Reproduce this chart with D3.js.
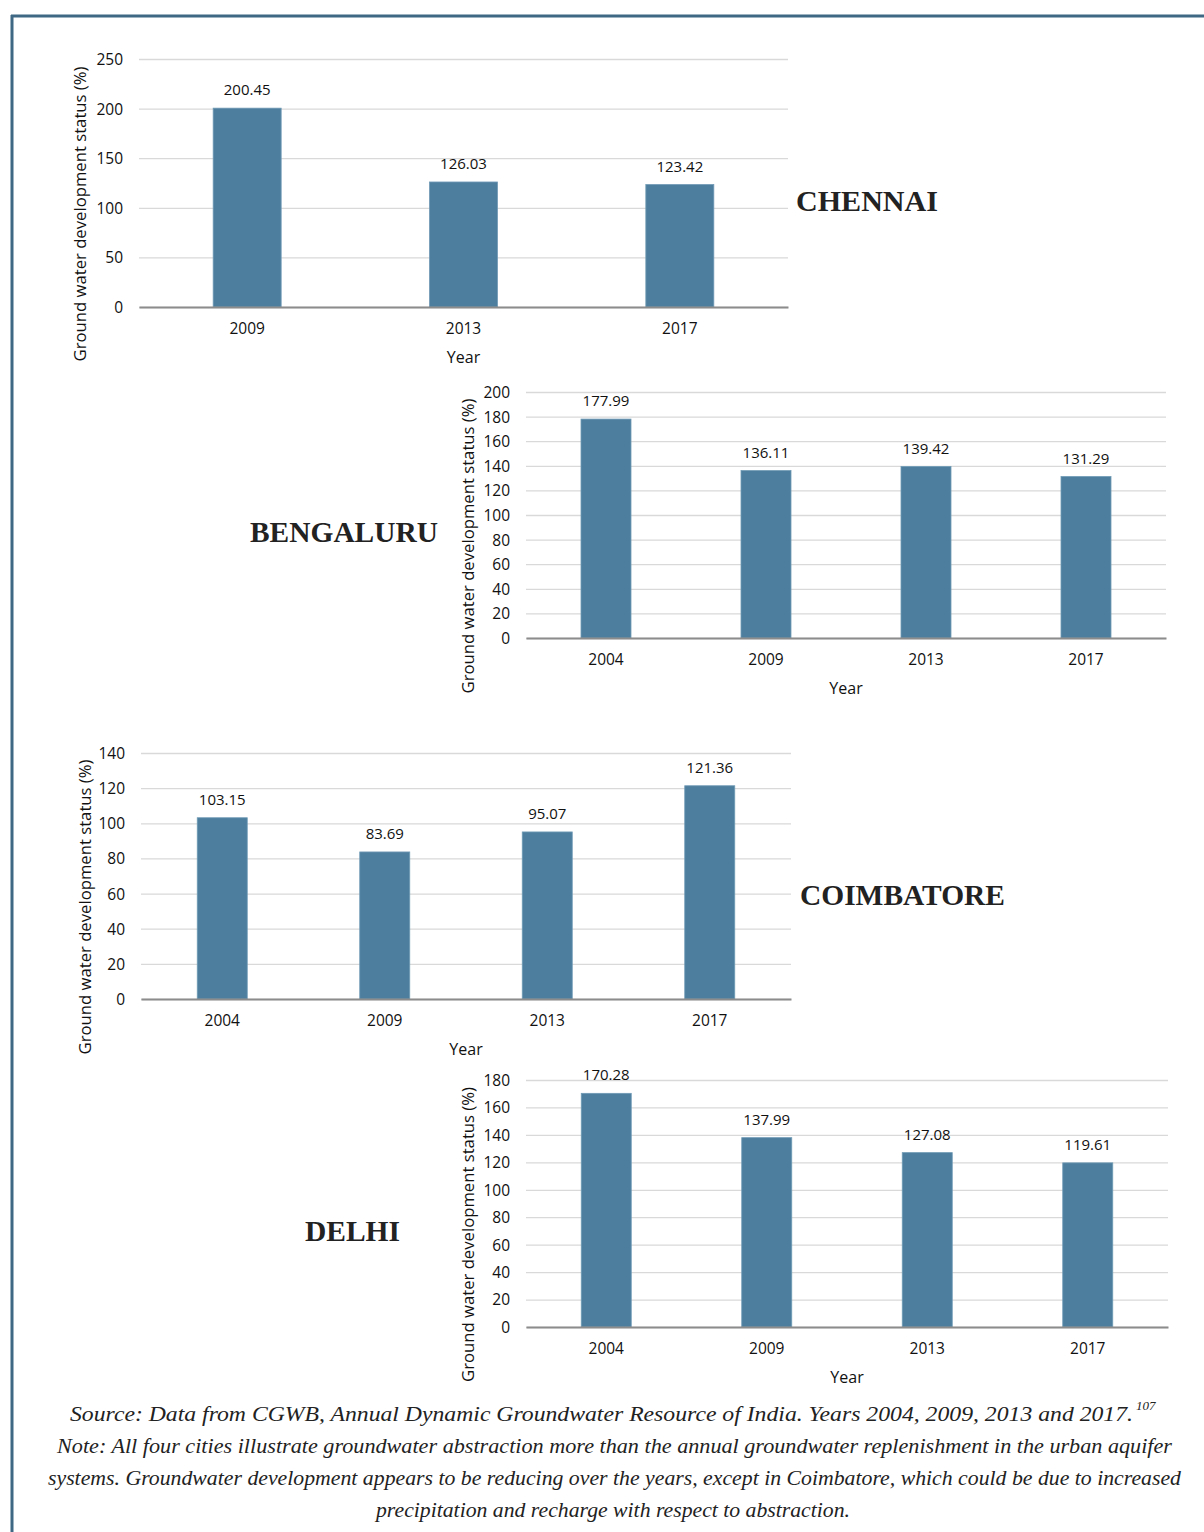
<!DOCTYPE html>
<html>
<head>
<meta charset="utf-8">
<script src="https://cdn.jsdelivr.net/npm/d3@7"></script>
<style>
  html, body { margin: 0; padding: 0; background: #fff; }
  svg { display: block; }
  .tick text { font-family: "Open Sans", sans-serif; }
</style>
</head>
<body>
<svg id="chart" width="1204" height="1532"></svg>
<script>
// ---- Data ----
const chennaiYears = ["2009", "2013", "2017"];
const chennaiValues = [200.45, 126.03, 123.42];
const chennaiTicks = [0, 50, 100, 150, 200, 250];

const bengaluruYears = ["2004", "2009", "2013", "2017"];
const bengaluruValues = [177.99, 136.11, 139.42, 131.29];
const bengaluruTicks = [0, 20, 40, 60, 80, 100, 120, 140, 160, 180, 200];

const coimbatoreYears = ["2004", "2009", "2013", "2017"];
const coimbatoreValues = [103.15, 83.69, 95.07, 121.36];
const coimbatoreTicks = [0, 20, 40, 60, 80, 100, 120, 140];

const delhiYears = ["2004", "2009", "2013", "2017"];
const delhiValues = [170.28, 137.99, 127.08, 119.61];
const delhiTicks = [0, 20, 40, 60, 80, 100, 120, 140, 160, 180];

const cityNames = ["CHENNAI", "BENGALURU", "COIMBATORE", "DELHI"];
const yAxisTitle = "Ground water development status (%)";
const xAxisTitle = "Year";

const footerLines = [
  "Source: Data from CGWB, Annual Dynamic Groundwater Resource of India. Years 2004, 2009, 2013 and 2017.",
  "Note: All four cities illustrate groundwater abstraction more than the annual groundwater replenishment in the urban aquifer",
  "systems. Groundwater development appears to be reducing over the years, except in Coimbatore, which could be due to increased",
  "precipitation and recharge with respect to abstraction."
];
const footnoteMark = "107";

// ---- Layout ----
const svg = d3.select("#chart");
const BAR = "#4e7e9e";
const FRAME = "#3e6883";

// frame
svg.append("line").attr("x1", 11).attr("x2", 1204).attr("y1", 16).attr("y2", 16)
  .attr("stroke", FRAME).attr("stroke-width", 3);
svg.append("line").attr("x1", 12).attr("x2", 12).attr("y1", 15).attr("y2", 1532)
  .attr("stroke", FRAME).attr("stroke-width", 3);

const charts = [
  { years: chennaiYears, values: chennaiValues, ticks: chennaiTicks,
    x0: 139, x1: 788, yTop: 59, yBot: 307, barW: 68, yLabX: 86,
    name: cityNames[0], nameX: 796, nameY: 211, nameW: 142 },
  { years: bengaluruYears, values: bengaluruValues, ticks: bengaluruTicks,
    x0: 526, x1: 1166, yTop: 392, yBot: 638, barW: 50, yLabX: 474,
    name: cityNames[1], nameX: 250, nameY: 542, nameW: 188 },
  { years: coimbatoreYears, values: coimbatoreValues, ticks: coimbatoreTicks,
    x0: 141, x1: 791, yTop: 753, yBot: 999, barW: 50, yLabX: 91,
    name: cityNames[2], nameX: 800, nameY: 905, nameW: 205 },
  { years: delhiYears, values: delhiValues, ticks: delhiTicks,
    x0: 526, x1: 1168, yTop: 1080, yBot: 1327, barW: 50, yLabX: 474,
    name: cityNames[3], nameX: 305, nameY: 1241, nameW: 95 }
];

charts.forEach(c => {
  const g = svg.append("g");
  const maxT = c.ticks[c.ticks.length - 1];
  const y = d3.scaleLinear().domain([0, maxT]).range([c.yBot, c.yTop]);
  const x = d3.scaleBand().domain(c.years).range([c.x0, c.x1]);

  // gridlines
  g.append("g")
    .attr("transform", `translate(${c.x0},0)`)
    .call(d3.axisLeft(y).tickValues(c.ticks).tickSize(-(c.x1 - c.x0)).tickFormat(""))
    .call(s => s.select(".domain").remove())
    .call(s => s.selectAll("line").attr("stroke", "#d9d9d9").attr("stroke-width", 1.3));

  // y tick labels
  g.append("g")
    .attr("transform", `translate(${c.x0 - 16},0)`)
    .call(d3.axisLeft(y).tickValues(c.ticks).tickSize(0).tickPadding(0).tickFormat(d3.format("d")))
    .call(s => s.select(".domain").remove())
    .call(s => s.selectAll("text").attr("font-size", 15.5).attr("fill", "#111").attr("dy", "0.35em"));

  // bars
  g.selectAll("rect.bar").data(c.years.map((yr, i) => ({ yr, v: c.values[i] })))
    .join("rect")
    .attr("x", d => x(d.yr) + x.bandwidth() / 2 - c.barW / 2)
    .attr("width", c.barW)
    .attr("y", d => y(d.v))
    .attr("height", d => y(0) - y(d.v))
    .attr("fill", BAR)
    .attr("stroke", "#6f9ab5").attr("stroke-width", 0.8);

  // value labels
  g.selectAll("text.val").data(c.years.map((yr, i) => ({ yr, v: c.values[i] })))
    .join("text")
    .attr("x", d => x(d.yr) + x.bandwidth() / 2)
    .attr("y", d => y(d.v) - 13)
    .attr("text-anchor", "middle")
    .attr("font-family", "Open Sans, sans-serif")
    .attr("font-size", 15).attr("fill", "#111")
    .text(d => d.v.toFixed(2));

  // x axis baseline + labels
  g.append("g")
    .attr("transform", `translate(0,${c.yBot})`)
    .call(d3.axisBottom(x).tickSize(0).tickPadding(16))
    .call(s => s.select(".domain").attr("stroke", "#8c8c8c").attr("stroke-width", 2.2))
    .call(s => s.selectAll("text").attr("font-size", 15.5).attr("fill", "#111"));

  // x title
  g.append("text")
    .attr("x", (c.x0 + c.x1) / 2).attr("y", c.yBot + 56)
    .attr("text-anchor", "middle")
    .attr("font-family", "Open Sans, sans-serif").attr("font-size", 16).attr("fill", "#111")
    .text(xAxisTitle);

  // y title
  g.append("text")
    .attr("transform", `translate(${c.yLabX},${(c.yTop + c.yBot) / 2 + 31}) rotate(-90)`)
    .attr("text-anchor", "middle")
    .attr("font-family", "Open Sans, sans-serif").attr("font-size", 15.5).attr("fill", "#111")
    .attr("textLength", 295).attr("lengthAdjust", "spacingAndGlyphs")
    .text(yAxisTitle);

  // city name
  g.append("text")
    .attr("x", c.nameX).attr("y", c.nameY)
    .attr("font-family", "Liberation Serif, serif").attr("font-weight", "bold")
    .attr("font-size", 30).attr("fill", "#222")
    .attr("textLength", c.nameW).attr("lengthAdjust", "spacingAndGlyphs")
    .text(c.name);
});

// ---- Footer ----
const footerSpecs = [
  { x0: 70, x1: 1133, y: 1421 },
  { x0: 57, x1: 1172, y: 1453 },
  { x0: 48, x1: 1181, y: 1485 },
  { x0: 376, x1: 850, y: 1517 }
];
footerLines.forEach((t, i) => {
  const s = footerSpecs[i];
  svg.append("text")
    .attr("x", s.x0).attr("y", s.y)
    .attr("font-family", "Liberation Serif, serif").attr("font-style", "italic")
    .attr("font-size", 21.5).attr("fill", "#222")
    .attr("textLength", s.x1 - s.x0).attr("lengthAdjust", "spacingAndGlyphs")
    .text(t);
});
svg.append("text")
  .attr("x", 1136).attr("y", 1410)
  .attr("font-family", "Liberation Serif, serif").attr("font-style", "italic")
  .attr("font-size", 13).attr("fill", "#222")
  .text(footnoteMark);
</script>
</body>
</html>
